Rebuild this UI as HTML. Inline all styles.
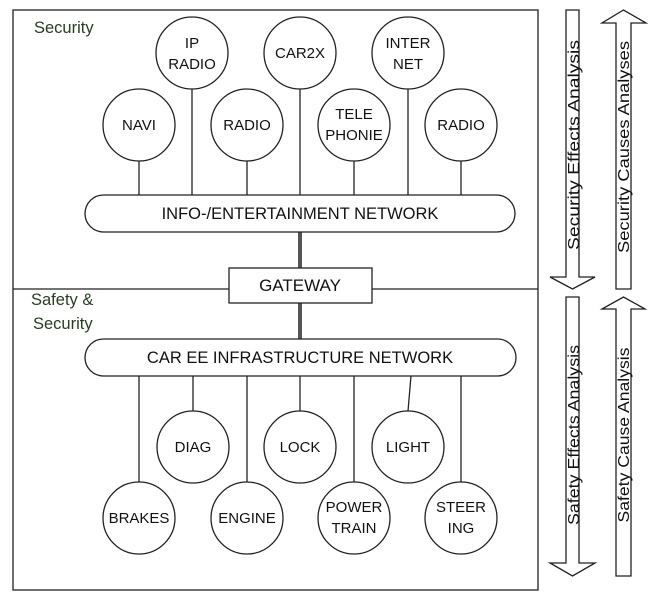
<!DOCTYPE html>
<html><head><meta charset="utf-8"><style>
html,body{margin:0;padding:0;background:#fff;}
svg{display:block;}
text{font-family:"Liberation Sans",sans-serif;}
</style></head><body>
<svg width="668" height="601" viewBox="0 0 668 601" xmlns="http://www.w3.org/2000/svg">
<g fill="none" stroke="#222" stroke-width="1.3">
<rect x="13" y="10" width="525" height="580"/>
<line x1="13" y1="289" x2="229" y2="289"/>
<line x1="372" y1="289" x2="538" y2="289"/>
<line x1="139" y1="161" x2="139" y2="195"/>
<line x1="192" y1="89" x2="192" y2="195"/>
<line x1="247" y1="161" x2="247" y2="195"/>
<line x1="300" y1="89" x2="300" y2="195"/>
<line x1="354" y1="161" x2="354" y2="195"/>
<line x1="408" y1="89" x2="408" y2="195"/>
<line x1="461" y1="161" x2="461" y2="195"/>
<line x1="139" y1="376" x2="139" y2="482"/>
<line x1="193" y1="376" x2="193" y2="411"/>
<line x1="247" y1="376" x2="247" y2="482"/>
<line x1="300" y1="376" x2="300" y2="411"/>
<line x1="354" y1="376" x2="354" y2="482"/>
<line x1="411" y1="376" x2="408" y2="411"/>
<line x1="461" y1="376" x2="461" y2="482"/>
</g>
<g stroke="#555" stroke-width="4">
<line x1="300" y1="232" x2="300" y2="268"/>
<line x1="300" y1="303" x2="300" y2="339"/>
</g>
<g fill="#fff" stroke="#222" stroke-width="1.3">
<rect x="85" y="195" width="430" height="37" rx="18.5"/>
<rect x="229" y="268" width="143" height="35"/>
<rect x="85" y="339" width="431" height="37" rx="18.5"/>
<circle cx="139" cy="125" r="36"/>
<circle cx="192" cy="53" r="36"/>
<circle cx="247" cy="125" r="36"/>
<circle cx="300" cy="53" r="36"/>
<circle cx="354" cy="125" r="36"/>
<circle cx="408" cy="53" r="36"/>
<circle cx="461" cy="125" r="36"/>
<circle cx="193" cy="447" r="36"/>
<circle cx="300" cy="447" r="36"/>
<circle cx="408" cy="447" r="36"/>
<circle cx="139" cy="518" r="36"/>
<circle cx="247" cy="518" r="36"/>
<circle cx="354" cy="518" r="36"/>
<circle cx="461" cy="518" r="36"/>
<polygon points="566,10 579,10 579,277 595,277 572.5,289 550,277 566,277"/>
<polygon points="616,289 631,289 631,23 646,23 623.5,10 602,23 616,23"/>
<polygon points="566,297 579,297 579,563 595,563 572.5,576 550,563 566,563"/>
<polygon points="616,576 631,576 631,309 645,309 623.5,297 602,309 616,309"/>
</g>
<g fill="#111" font-size="15" text-anchor="middle">
<text x="139" y="130">NAVI</text>
<text x="192" y="48">IP</text><text x="192" y="69">RADIO</text>
<text x="247" y="130">RADIO</text>
<text x="300" y="58">CAR2X</text>
<text x="354" y="119">TELE</text><text x="354" y="140">PHONIE</text>
<text x="408" y="48">INTER</text><text x="408" y="69">NET</text>
<text x="461" y="130">RADIO</text>
<text x="193" y="452">DIAG</text>
<text x="300" y="452">LOCK</text>
<text x="408" y="452">LIGHT</text>
<text x="139" y="523">BRAKES</text>
<text x="247" y="523">ENGINE</text>
<text x="354" y="512">POWER</text><text x="354" y="533">TRAIN</text>
<text x="461" y="512">STEER</text><text x="461" y="533">ING</text>
<text x="300" y="219" font-size="16.5">INFO-/ENTERTAINMENT NETWORK</text>
<text x="300" y="291" font-size="17">GATEWAY</text>
<text x="300" y="363" font-size="16.5">CAR EE INFRASTRUCTURE NETWORK</text>
</g>
<g fill="#2a3d24" font-size="16.5">
<text x="34" y="33">Security</text>
<text x="31" y="305">Safety &amp;</text>
<text x="33" y="329">Security</text>
</g>
<g fill="#111" font-size="16" text-anchor="middle">
<text transform="translate(579,145) rotate(-90)" textLength="210" lengthAdjust="spacingAndGlyphs">Security Effects Analysis</text>
<text transform="translate(629,147) rotate(-90)" textLength="212" lengthAdjust="spacingAndGlyphs">Security Causes Analyses</text>
<text transform="translate(579,435) rotate(-90)" textLength="180" lengthAdjust="spacingAndGlyphs">Safety Effects Analysis</text>
<text transform="translate(629,435) rotate(-90)" textLength="175" lengthAdjust="spacingAndGlyphs">Safety Cause Analysis</text>
</g>
</svg>
</body></html>
